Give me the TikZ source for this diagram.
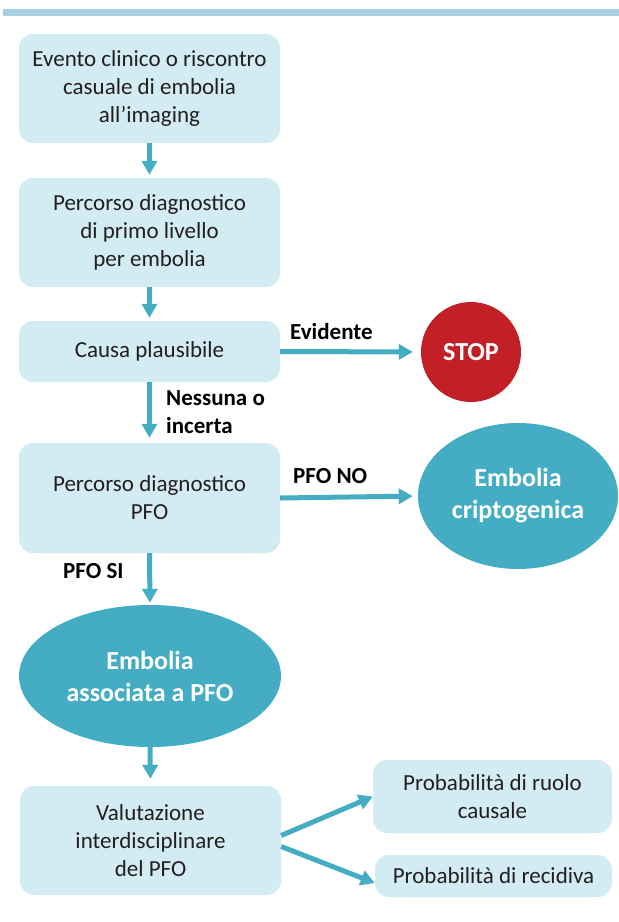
\documentclass[tikz,border=0pt]{standalone}
\usepackage{fontspec}
\setmainfont{Carlito}
\usetikzlibrary{arrows.meta,shapes.geometric,calc}
\definecolor{boxfill}{HTML}{D3EBF2}
\definecolor{tealc}{HTML}{44ADC4}
\definecolor{stopred}{HTML}{C22026}
\definecolor{barblue}{HTML}{A7D1E3}
\definecolor{txt}{HTML}{231F20}
\begin{document}
\begin{tikzpicture}[x=1pt,y=-1pt,
  box/.style={draw=none, fill=boxfill, rounded corners=14pt, align=center, text=txt,
    font=\fontsize{23}{28}\selectfont, inner sep=0pt},
  oval/.style={ellipse, fill=tealc, text=white, font=\bfseries\fontsize{26}{32}\selectfont,
    align=center, inner sep=0pt},
  arr/.style={draw=tealc, line width=5pt, -{Triangle[length=14pt,width=15pt]}},
  lbl/.style={font=\bfseries\fontsize{23}{28}\selectfont, text=black, inner sep=0pt, anchor=base west}]
\useasboundingbox (0,0) rectangle (619,922);
\fill[barblue] (3,9) rectangle (619,16);
% boxes
\node[box, minimum width=261pt, minimum height=109pt] (b1) at (149.5,88.5)
  {Evento clinico o riscontro\\casuale di embolia\\all’imaging};
\node[box, minimum width=261pt, minimum height=109pt] (b2) at (149.5,232.5)
  {Percorso diagnostico\\di primo livello\\per embolia};
\node[box, minimum width=261pt, minimum height=61pt] (b3) at (149.5,351.5)
  {Causa plausibile};
\node[box, minimum width=261pt, minimum height=110pt] (b4) at (149.5,498)
  {Percorso diagnostico\\PFO};
\node[oval, minimum width=262pt, minimum height=142pt] (e1) at (150,676)
  {Embolia\\associata a PFO};
\node[box, minimum width=261pt, minimum height=109pt] (b5) at (150.5,840.5)
  {Valutazione\\interdisciplinare\\del PFO};
\node[box, minimum width=239pt, minimum height=73pt] (bA) at (492.5,796.5)
  {Probabilità di ruolo\\causale};
\node[box, minimum width=237pt, minimum height=42pt] (bB) at (493.5,876)
  {Probabilità di recidiva};
\node[circle, fill=stopred, text=white, font=\bfseries\fontsize{26}{32}\selectfont,
  minimum size=100pt, inner sep=0pt] (stop) at (471,352) {STOP};
\node[oval, minimum width=200pt, minimum height=146pt] (e2) at (518,496)
  {Embolia\\criptogenica};
% labels
\node[lbl] (lev) at (290,339) {Evidente};
\node[lbl] (ln1) at (166,405) {Nessuna o};
\node[lbl] (ln2) at (166,433) {incerta};
\node[lbl] (lno) at (293,483) {PFO NO};
\node[lbl] (lsi) at (63,578) {PFO SI};
% arrows
\draw[arr, shorten >=3pt] (b1.south) -- (b2.north);
\draw[arr, shorten >=3pt] (b2.south) -- (b3.north);
\draw[arr, shorten >=5pt] (b3.south) -- (b4.north);
\draw[arr, shorten >=2pt] (b4.south) -- (e1.north);
\draw[arr, shorten >=7pt] (e1.south) -- (b5.north);
\draw[arr, shorten >=8pt] (b3.east) -- (stop.west);
\draw[arr, shorten >=5pt] (b4.east) -- (e2.west);
\coordinate (bBin) at ([yshift=-7pt]bB.west);
\draw[arr] ([yshift=5pt]b5.east) -- (bA.west);
\draw[arr] ([yshift=-6pt]b5.east) -- (bBin);
\end{tikzpicture}
\end{document}
